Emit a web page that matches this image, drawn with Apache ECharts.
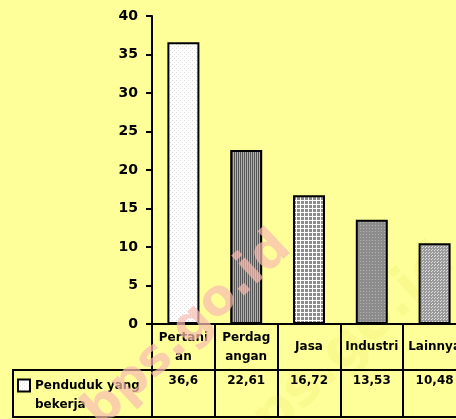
<!DOCTYPE html>
<html>
<head>
<meta charset="utf-8">
<script src="https://cdn.jsdelivr.net/npm/echarts@6/dist/echarts.min.js"></script>
<style>
  html, body { margin: 0; padding: 0; background: #FFFF99; }
  #chart { width: 456px; height: 419px; }
</style>
</head>
<body>
<div id="chart"></div>
<script>
// data
const categories = ['Pertanian', 'Perdagangan', 'Jasa', 'Industri', 'Lainnya'];
const catLabels = ['Pertani\nan', 'Perdag\nangan', 'Jasa', 'Industri', 'Lainnya'];
const values = [36.6, 22.61, 16.72, 13.53, 10.48];
const yTicks = [0, 5, 10, 15, 20, 25, 30, 35, 40];
const seriesName = 'Penduduk yang bekerja';

// small fill patterns like the old spreadsheet bars
function makePattern(w, h, draw) {
    const c = document.createElement('canvas');
    c.width = w; c.height = h;
    const ctx = c.getContext('2d');
    draw(ctx);
    return { image: c, repeat: 'repeat' };
}
const patterns = [
    makePattern(4, 4, ctx => {
        ctx.fillStyle = '#ffffff'; ctx.fillRect(0, 0, 4, 4);
        ctx.fillStyle = '#dcdcdc'; ctx.fillRect(0, 0, 1, 1); ctx.fillRect(2, 2, 1, 1);
    }),
    makePattern(2, 2, ctx => {
        ctx.fillStyle = '#555555'; ctx.fillRect(0, 0, 1, 2);
        ctx.fillStyle = '#b0b0b0'; ctx.fillRect(1, 0, 1, 2);
    }),
    makePattern(4, 4, ctx => {
        ctx.fillStyle = '#ffffff'; ctx.fillRect(0, 0, 4, 4);
        ctx.fillStyle = '#8a8a8a'; ctx.fillRect(1, 1, 3, 3);
    }),
    makePattern(3, 3, ctx => {
        ctx.fillStyle = '#8c8c8c'; ctx.fillRect(0, 0, 3, 3);
        ctx.fillStyle = '#b4b4b4'; ctx.fillRect(0, 0, 1, 1);
    }),
    makePattern(3, 3, ctx => {
        ctx.fillStyle = '#9a9a9a'; ctx.fillRect(0, 0, 3, 3);
        ctx.fillStyle = '#e0e0e0'; ctx.fillRect(0, 0, 1, 1); ctx.fillRect(2, 1, 1, 1);
    })
];

const tableFont = { fontFamily: 'DejaVu Sans', fontWeight: 'bold', fontSize: 12, color: '#000' };

const chart = echarts.init(document.getElementById('chart'));
chart.setOption({
    backgroundColor: '#FFFF99',
    animation: false,
    grid: { left: 152, width: 314, top: 16, bottom: 95, outerBoundsMode: 'none', containLabel: false },
    legend: {
        left: 17,
        top: 357,
        padding: 0,
        icon: 'rect',
        itemWidth: 12,
        itemHeight: 12,
        itemStyle: { borderColor: '#000', borderWidth: 2 },
        formatter: () => ' \nPenduduk yang\nbekerja',
        textStyle: Object.assign({}, tableFont, { lineHeight: 19 }),
        data: [seriesName]
    },
    xAxis: [{
        type: 'category',
        data: categories,
        axisLine: { lineStyle: { color: '#000', width: 2 } },
        axisTick: { show: true, interval: 0, length: 93, lineStyle: { color: '#000', width: 2 } },
        axisLabel: Object.assign({}, tableFont, {
            interval: 0, margin: 23, verticalAlign: 'middle', lineHeight: 19,
            formatter: (v, i) => catLabels[i]
        })
    }, {
        type: 'category',
        position: 'bottom',
        data: values.map(v => String(v).replace('.', ',')),
        axisLine: { show: false },
        axisTick: { show: false },
        axisLabel: Object.assign({}, tableFont, { interval: 0, margin: 57, verticalAlign: 'middle' })
    }],
    yAxis: {
        type: 'value',
        min: 0,
        max: 40,
        interval: 5,
        splitLine: { show: false },
        axisLine: { show: true, lineStyle: { color: '#000', width: 2 } },
        axisTick: { show: true, length: 6, lineStyle: { color: '#000', width: 2 } },
        axisLabel: {
            margin: 14, color: '#000', fontFamily: 'DejaVu Sans', fontWeight: 'bold', fontSize: 14,
            formatter: v => yTicks.includes(v) ? String(v) : ''
        }
    },
    series: [{
        name: seriesName,
        type: 'bar',
        barWidth: 32,
        itemStyle: { color: patterns[0], borderColor: '#000', borderWidth: 2 },
        data: values.map((v, i) => ({ value: v, itemStyle: { color: patterns[i] } }))
    }],
    graphic: [
        // table lines
        { type: 'line', z: 5, shape: { x1: 13, y1: 370, x2: 470, y2: 370 }, style: { stroke: '#000', lineWidth: 2 } },
        { type: 'line', z: 5, shape: { x1: 13, y1: 417, x2: 470, y2: 417 }, style: { stroke: '#000', lineWidth: 2 } },
        { type: 'line', z: 5, shape: { x1: 13, y1: 369, x2: 13, y2: 418 }, style: { stroke: '#000', lineWidth: 2 } },
        // faint watermark
        {
            type: 'text', x: 340, y: 355, rotation: 0.75, z: 1,
            style: { text: 'bps.go.id', fill: 'rgba(170,170,0,0.07)', font: 'bold 56px DejaVu Sans', align: 'center', verticalAlign: 'middle' }
        },
        // pink watermark
        {
            type: 'text', x: 188, y: 330, rotation: 0.75, z: 100,
            style: { text: 'bps.go.id', fill: '#F8BCB0', opacity: 0.7, font: 'bold 50px DejaVu Sans', align: 'center', verticalAlign: 'middle' }
        }
    ]
});
</script>
</body>
</html>
